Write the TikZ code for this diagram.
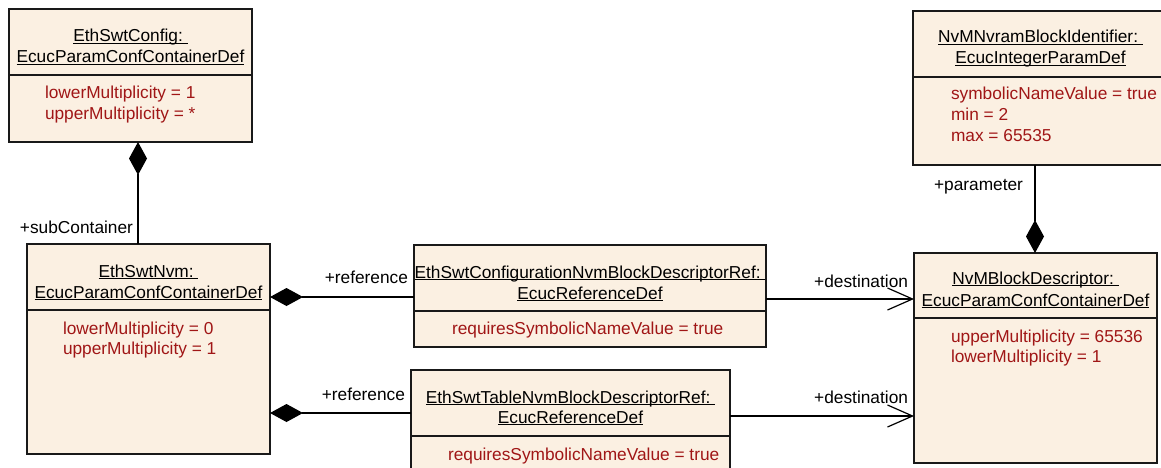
\documentclass[tikz,border=0pt]{standalone}
\usepackage{fontspec}
\setmainfont{Liberation Sans}
\usetikzlibrary{arrows.meta}
\definecolor{boxfill}{RGB}{251,240,226}
\definecolor{attrred}{RGB}{160,22,22}
\definecolor{edgecol}{RGB}{25,25,25}
\newcommand{\ulx}[1]{\setbox0\hbox{#1}\rlap{\rule[-1.8pt]{\wd0}{0.9pt}}\box0}
\begin{document}
\begin{tikzpicture}[x=1pt,y=-1pt,
  every node/.style={font=\fontsize{17.3}{20}\selectfont, inner sep=0pt, outer sep=0pt},
  umlbox/.style={draw=edgecol, line width=1.4pt, fill=boxfill, anchor=north west},
  sepline/.style={draw=edgecol, line width=1.2pt},
  titletext/.style={anchor=base, text=black},
  attrtext/.style={anchor=base west, text=attrred},
  lbl/.style={anchor=base east, text=black},
  comp/.style={draw=black, line width=1.2pt, -{Diamond[length=33pt,width=18pt]}},
  nav/.style={draw=black, line width=1.2pt, -{Straight Barb[length=25pt,width=22pt,line width=1.2pt]}}
]
\useasboundingbox (0,0) rectangle (1161,468);

% ---- boxes
\node[umlbox, minimum width=243pt, minimum height=133pt] (cfg) at (9,9) {};
\node[umlbox, minimum width=243pt, minimum height=210pt] (nvm) at (27,244) {};
\node[umlbox, minimum width=352pt, minimum height=102pt] (confref) at (414,245) {};
\node[umlbox, minimum width=319pt, minimum height=110pt] (tabref) at (411,370) {};
\node[umlbox, minimum width=243pt, minimum height=210pt] (bd) at (914,253) {};
\node[umlbox, minimum width=255pt, minimum height=154pt] (nvram) at (913,11) {};

% ---- separators
\coordinate (sA) at (0,75);
\coordinate (sB) at (0,310);
\coordinate (sC) at (0,311);
\coordinate (sD) at (0,436);
\coordinate (sE) at (0,318);
\coordinate (sF) at (0,77);
\draw[sepline] (cfg.west |- sA) -- (cfg.east |- sA);
\draw[sepline] (nvm.west |- sB) -- (nvm.east |- sB);
\draw[sepline] (confref.west |- sC) -- (confref.east |- sC);
\draw[sepline] (tabref.west |- sD) -- (tabref.east |- sD);
\draw[sepline] (bd.west |- sE) -- (bd.east |- sE);
\draw[sepline] (nvram.west |- sF) -- (nvram.east |- sF);

% ---- titles
\node[titletext] (cfgT1) at (130.5,42) {\ulx{EthSwtConfig:\ }};
\node[titletext] (cfgT2) at (130.5,63) {\ulx{EcucParamConfContainerDef}};
\node[titletext] (nvmT1) at (148.5,277) {\ulx{EthSwtNvm:\ }};
\node[titletext] (nvmT2) at (148.5,298) {\ulx{EcucParamConfContainerDef}};
\node[titletext] (crT1) at (590,278) {\ulx{EthSwtConfigurationNvmBlockDescriptorRef:\ }};
\node[titletext] (crT2) at (590,299) {\ulx{EcucReferenceDef}};
\node[titletext] (trT1) at (570.5,403) {\ulx{EthSwtTableNvmBlockDescriptorRef:\ }};
\node[titletext] (trT2) at (570.5,423) {\ulx{EcucReferenceDef}};
\node[titletext] (bdT1) at (1035.5,284) {\ulx{NvMBlockDescriptor:\ }};
\node[titletext] (bdT2) at (1035.5,306) {\ulx{EcucParamConfContainerDef}};
\node[titletext] (nrT1) at (1040.5,43) {\ulx{NvMNvramBlockIdentifier:\ }};
\node[titletext] (nrT2) at (1040.5,64) {\ulx{EcucIntegerParamDef}};

% ---- attributes
\node[attrtext] (cfgA1) at (45,99) {lowerMultiplicity = 1};
\node[attrtext] (cfgA2) at (45,120) {upperMultiplicity = *};
\node[attrtext] (nvmA1) at (63,334) {lowerMultiplicity = 0};
\node[attrtext] (nvmA2) at (63,354) {upperMultiplicity = 1};
\node[attrtext] (crA1) at (452,334) {requiresSymbolicNameValue = true};
\node[attrtext] (trA1) at (448,460) {requiresSymbolicNameValue = true};
\node[attrtext] (bdA1) at (951,342) {upperMultiplicity = 65536};
\node[attrtext] (bdA2) at (951,362) {lowerMultiplicity = 1};
\node[attrtext] (nrA1) at (951,100) {symbolicNameValue = true};
\node[attrtext] (nrA2) at (951,121) {min = 2};
\node[attrtext] (nrA3) at (951,142) {max = 65535};

% ---- connector guide coordinates
\coordinate (xsub) at (138,0);
\coordinate (yref1) at (0,297);
\coordinate (yref2) at (0,413);
\coordinate (ydst1) at (0,299);
\coordinate (ydst2) at (0,416);
\coordinate (xpar) at (1035,0);

% ---- connectors
\draw[comp] (nvm.north -| xsub) -- (cfg.south -| xsub);
\draw[comp] (confref.west |- yref1) -- (nvm.east |- yref1);
\draw[comp] (tabref.west |- yref2) -- (nvm.east |- yref2);
\draw[nav] (confref.east |- ydst1) -- (bd.west |- ydst1);
\draw[nav] (tabref.east |- ydst2) -- (bd.west |- ydst2);
\draw[comp] (nvram.south -| xpar) -- (bd.north -| xpar);

% ---- role labels
\node[lbl] (lsub) at (133,233) {+subContainer};
\node[lbl] (lref1) at (408,283) {+reference};
\node[lbl] (lref2) at (405,400) {+reference};
\node[lbl] (ldst1) at (908,287) {+destination};
\node[lbl] (ldst2) at (908,403) {+destination};
\node[lbl] (lpar) at (1023,190) {+parameter};
\end{tikzpicture}
\end{document}
